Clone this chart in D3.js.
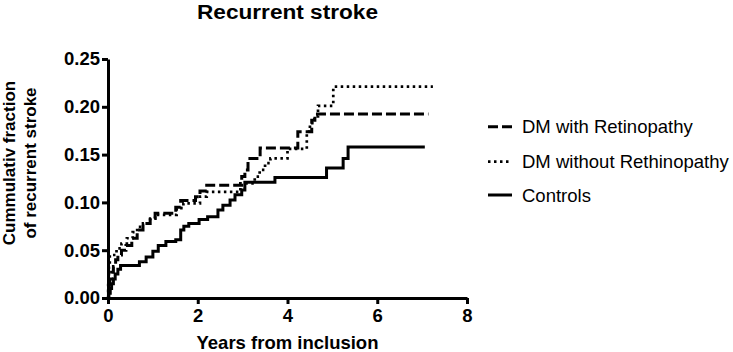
<!DOCTYPE html>
<html>
<head>
<meta charset="utf-8">
<script src="https://cdn.jsdelivr.net/npm/d3@7"></script>
<style>
  body { margin: 0; background: #fff; }
  svg { display: block; font-family: "Liberation Sans", Arial, sans-serif; }
</style>
</head>
<body>
<svg id="chart" width="733" height="352"></svg>
<script>
// ---- Data ----
const xTicks = [0, 2, 4, 6, 8];
const yTicks = [0, 0.05, 0.10, 0.15, 0.20, 0.25];

const seriesNames = ["DM with Retinopathy", "DM without Rethinopathy", "Controls"];

// DM with Retinopathy (dashed)
const retinoTimes  = [0, 0.01, 0.04, 0.08, 0.12, 0.17, 0.22, 0.30, 0.40, 0.53, 0.65, 0.78, 0.94, 1.05, 1.51, 1.62, 1.95, 2.05, 2.20, 2.98, 3.05, 3.12, 3.39, 4.23, 4.54, 4.61, 7.14];
const retinoValues = [0, 0.010, 0.020, 0.027, 0.033, 0.040, 0.045, 0.050, 0.055, 0.0625, 0.071, 0.078, 0.0835, 0.0886, 0.095, 0.102, 0.106, 0.112, 0.118, 0.127, 0.134, 0.146, 0.157, 0.174, 0.186, 0.1925, 0.1925];

// DM without Rethinopathy (dotted)
const noRetinoTimes  = [0, 0.005, 0.01, 0.02, 0.04, 0.19, 0.30, 0.42, 0.55, 0.65, 0.78, 0.94, 1.05, 1.53, 1.68, 2.05, 2.20, 2.95, 3.27, 3.38, 3.50, 3.62, 4.00, 4.43, 4.50, 4.60, 4.68, 5.02, 7.24];
const noRetinoValues = [0, 0.015, 0.025, 0.035, 0.045, 0.052, 0.057, 0.0625, 0.069, 0.0745, 0.078, 0.083, 0.087, 0.094, 0.099, 0.106, 0.111, 0.120, 0.127, 0.134, 0.141, 0.146, 0.156, 0.174, 0.183, 0.190, 0.201, 0.221, 0.221];

// Controls (solid)
const controlTimes  = [0, 0.02, 0.05, 0.08, 0.12, 0.16, 0.22, 0.28, 0.70, 0.85, 1.00, 1.12, 1.29, 1.51, 1.62, 1.69, 1.80, 2.03, 2.22, 2.45, 2.56, 2.72, 2.83, 2.98, 3.05, 3.72, 4.87, 5.24, 5.35, 7.06];
const controlValues = [0, 0.005, 0.010, 0.015, 0.020, 0.025, 0.030, 0.034, 0.038, 0.043, 0.049, 0.055, 0.059, 0.061, 0.071, 0.075, 0.078, 0.082, 0.085, 0.092, 0.097, 0.1025, 0.108, 0.113, 0.121, 0.126, 0.136, 0.146, 0.158, 0.158];

// ---- Drawing ----
const svg = d3.select("#chart");
const x = d3.scaleLinear().domain([0, 8]).range([108, 467]);
const y = d3.scaleLinear().domain([0, 0.25]).range([298, 59]);

const styles = [
  { dash: "10,4", width: 3 },
  { dash: "2.5,3.5", width: 2.7 },
  { dash: null, width: 3 }
];
const series = [
  d3.zip(retinoTimes, retinoValues),
  d3.zip(noRetinoTimes, noRetinoValues),
  d3.zip(controlTimes, controlValues)
];

const line = d3.line().x(d => x(d[0])).y(d => y(d[1])).curve(d3.curveStepAfter);

series.forEach((s, i) => {
  svg.append("path")
    .datum(s)
    .attr("d", line)
    .attr("fill", "none")
    .attr("stroke", "#000")
    .attr("stroke-width", styles[i].width)
    .attr("stroke-dasharray", styles[i].dash)
    .attr("stroke-linejoin", "miter");
});

// Axes
const xAxis = svg.append("g")
  .attr("transform", `translate(0,${y(0)})`)
  .call(d3.axisBottom(x).tickValues(xTicks).tickSize(6).tickSizeOuter(0).tickPadding(5).tickFormat(d3.format("d")));
const yAxis = svg.append("g")
  .attr("transform", `translate(${x(0)},0)`)
  .call(d3.axisLeft(y).tickValues(yTicks).tickSize(6).tickSizeOuter(0).tickPadding(2).tickFormat(d3.format(".2f")));

[xAxis, yAxis].forEach(g => {
  g.select(".domain").attr("stroke", "#000").attr("stroke-width", 3);
  g.selectAll(".tick line").attr("stroke", "#000").attr("stroke-width", 3);
  g.selectAll(".tick text")
    .attr("fill", "#000")
    .style("font-family", "'Liberation Sans', Arial, sans-serif")
    .style("font-weight", "bold")
    .style("font-size", "18.5px");
});

// Title
svg.append("text")
  .attr("x", (x(0) + x(8)) / 2)
  .attr("y", 18.5)
  .attr("text-anchor", "middle")
  .attr("textLength", 181)
  .attr("lengthAdjust", "spacingAndGlyphs")
  .style("font-weight", "bold")
  .style("font-size", "20px")
  .text("Recurrent stroke");

// X axis title
svg.append("text")
  .attr("x", (x(0) + x(8)) / 2)
  .attr("y", 349)
  .attr("text-anchor", "middle")
  .style("font-weight", "bold")
  .style("font-size", "18.5px")
  .text("Years from inclusion");

// Y axis title (two lines)
const yLabelLines = ["Cummulativ fraction", "of recurrent stroke"];
const yTitle = svg.append("text")
  .attr("transform", "translate(0,163) rotate(-90)")
  .attr("text-anchor", "middle")
  .style("font-weight", "bold")
  .style("font-size", "17px");
yLabelLines.forEach((t, i) => {
  yTitle.append("tspan").attr("x", 0).attr("y", i === 0 ? 15 : 36).text(t);
});

// Legend
const legendY = [126.7, 161.7, 195];
const legend = svg.append("g");
seriesNames.forEach((name, i) => {
  legend.append("line")
    .attr("x1", 488).attr("x2", 512)
    .attr("y1", legendY[i]).attr("y2", legendY[i])
    .attr("stroke", "#000")
    .attr("stroke-width", styles[i].width)
    .attr("stroke-dasharray", styles[i].dash);
  legend.append("text")
    .attr("x", 522)
    .attr("y", legendY[i] + 6.7)
    .style("font-size", "18.5px")
    .attr("fill", "#000")
    .text(name);
});
</script>
</body>
</html>
